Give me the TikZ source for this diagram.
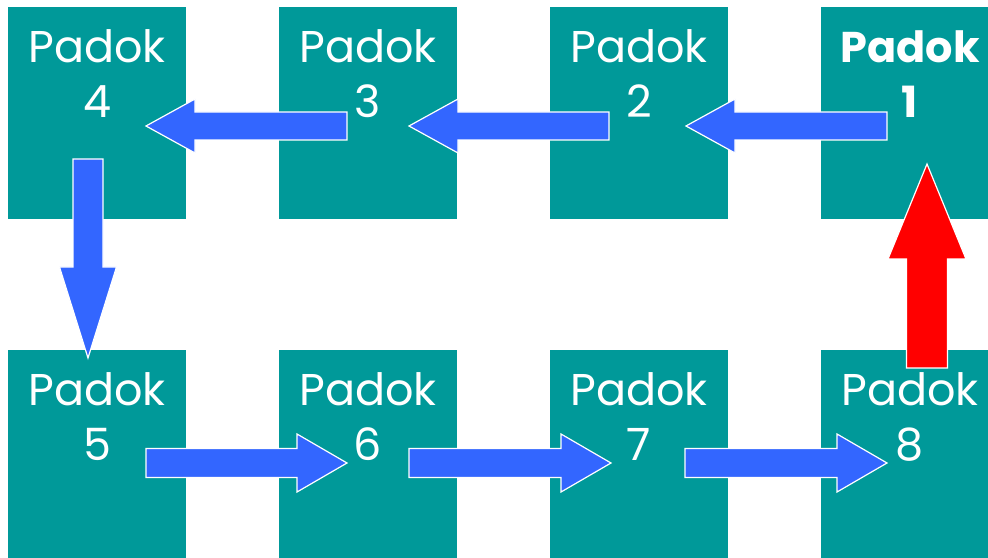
\documentclass[tikz,border=0pt]{standalone}
\usepackage{fontspec}
\setmainfont{Poppins}
\usetikzlibrary{calc,positioning}

\definecolor{padokteal}{RGB}{0,153,153}
\definecolor{arrowblue}{RGB}{51,102,255}
\definecolor{arrowred}{RGB}{255,0,0}

\tikzset{
  padok/.style={rectangle, fill=padokteal, minimum width=178pt, minimum height=212pt, inner sep=0pt, outer sep=0pt},
  padtxt/.style={text=white, align=center, inner sep=0pt, outer sep=0pt, font=\fontsize{44.5}{55}\selectfont},
  arrowline/.style={draw=white, line width=1.2pt, line join=miter, fill=arrowblue},
}

% block arrow: [options]{from}{to}{half shaft}{half head}{head length}
\newcommand{\blockarrow}[6][]{%
  \draw[arrowline,#1] let \p1=(#2), \p2=(#3), \n1={atan2(\y2-\y1,\x2-\x1)} in
    ($(\p1)+({\n1+90}:#4)$) -- ($(\p2)!#6!(\p1)+({\n1+90}:#4)$)
    -- ($(\p2)!#6!(\p1)+({\n1+90}:#5)$) -- (\p2)
    -- ($(\p2)!#6!(\p1)+({\n1-90}:#5)$) -- ($(\p2)!#6!(\p1)+({\n1-90}:#4)$)
    -- ($(\p1)+({\n1-90}:#4)$) -- cycle;}

\begin{document}
\begin{tikzpicture}[x=1pt, y=1pt]

        \useasboundingbox (0,0) rectangle (988,557);

        % Paddocks
        \foreach \n/\x/\y in {4/97/444, 3/368/444, 2/639/444, 1/910/444,
                              5/97/101, 6/368/101, 7/639/101, 8/910/101} {
            \node[padok] (p\n) at (\x,\y) {};
        }

        % Labels
        \node[padtxt, font=\fontsize{43}{55}\selectfont, below=24pt of p1.north] (t1) {\textbf{Padok}\\\textbf{1}};
        \foreach \n in {2,...,8} {
            \node[padtxt, below=23pt of p\n.north] (t\n) {Padok\\\n};
        }

        % Top row, right to left
        \blockarrow{$(p1)+(-23,-13)$}{$(p2)+(47,-13)$}{14pt}{27pt}{49pt}
        \blockarrow{$(p2)+(-30,-13)$}{$(p3)+(41,-13)$}{14pt}{27pt}{49pt}
        \blockarrow{$(p3)+(-21,-13)$}{$(p4)+(49,-13)$}{14pt}{27pt}{49pt}

        % Down to the bottom row
        \blockarrow{$(p4)+(-9,-46)$}{$(p5)+(-9,98)$}{15pt}{28.5pt}{91pt}

        % Bottom row, left to right
        \blockarrow{$(p5)+(49,-7)$}{$(p6)+(-21,-7)$}{14.5pt}{29pt}{50pt}
        \blockarrow{$(p6)+(41,-7)$}{$(p7)+(-28,-7)$}{14.5pt}{29pt}{50pt}
        \blockarrow{$(p7)+(46,-7)$}{$(p8)+(-23,-7)$}{14.5pt}{29pt}{50pt}

        % Back up to paddock 1
        \blockarrow[fill=arrowred]{$(p8)+(17,88)$}{$(p1)+(17,-51)$}{20.5pt}{39pt}{95pt}

\end{tikzpicture}
\end{document}
